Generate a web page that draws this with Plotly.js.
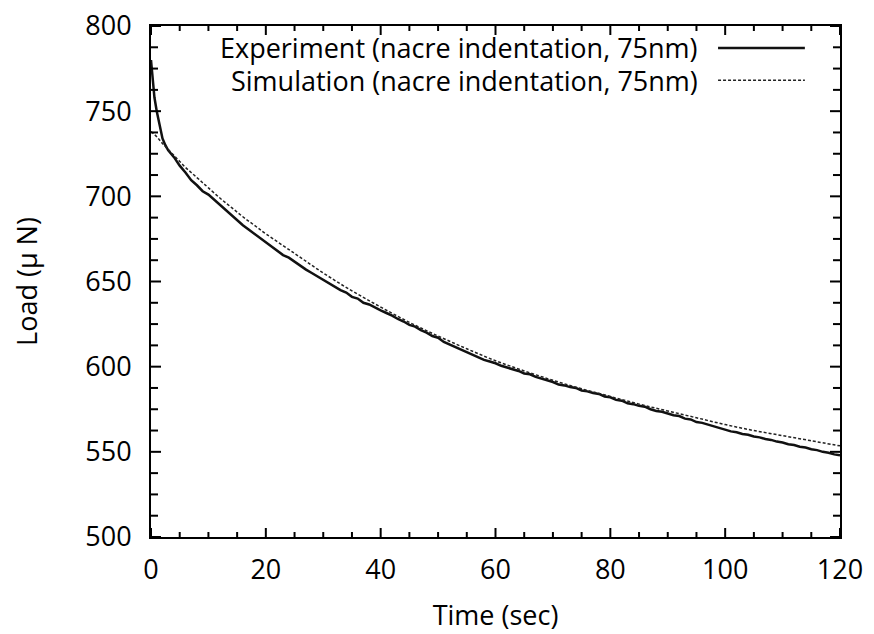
<!DOCTYPE html>
<html>
<head>
<meta charset="utf-8">
<script src="https://cdn.plot.ly/plotly-3.0.1.min.js"></script>
<style>html,body{margin:0;padding:0;background:#fff;}#chart{width:874px;height:634px;}</style>
</head>
<body>
<div id="chart"></div>
<script>
// Experiment (nacre indentation, 75nm): time (s) and load (µN)
const expTime = [0,0.3,0.6,1,1.5,2,2.5,3,4,5,6,7,8,9,10,11,12,13,14,15,16,17,18,19,20,
  21,22,23,24,25,26,27,28,29,30,31,32,33,34,35,36,37,38,39,40,41,42,43,44,45,46,47,48,49,50,
  51,52,53,54,55,56,57,58,59,60,61,62,63,64,65,66,67,68,69,70,71,72,73,74,75,76,77,78,79,80,
  81,82,83,84,85,86,87,88,89,90,91,92,93,94,95,96,97,98,99,100,101,102,103,104,105,106,107,108,109,110,
  111,112,113,114,115,116,117,118,119,120];
const expLoad = [780,768,758,750,741,734,730,727,723,718,714,709.5,706.5,703,701,698,695,691.5,689,686,683,680.5,678,675.5,673,
  671,668.5,665.5,664,661.5,659.5,657,655,653,651,648.5,647,645,643.5,641,640,637.5,636.5,634.5,633,631.5,630,628,626.5,624.5,623.5,621.5,620,618,617,
  614.5,613,611.5,610,608.5,607,605.5,604,603,602,600.5,599.5,598.5,597.5,596,595.5,594,593,592,591,589.5,589,588,587.5,586,585.5,584.5,584,582.5,582,
  580.5,580,578.5,578,577,576.5,575,574,573.5,572.5,571.5,571,569.5,569,567.5,567,566,565,564,563,562,561.5,560.5,560,559,558.5,557.5,557,556,555.5,
  554.5,554,553,552.5,551.5,551,550,549.5,548.5,548];

// Simulation (nacre indentation, 75nm)
const simTime = [0,1,2,3,4,5,6,7,8,9,10,12,14,16,18,20,25,30,35,40,45,50,55,60,65,70,75,80,85,90,95,100,105,110,115,120];
const simLoad = [738,735,731,727.5,724,720.5,717,714,711,708,705,699,693.5,688,683,678,666.5,655,644.5,635,626,618,610.5,603.5,597.5,592,587,582.5,578,574,570,566,562.5,559.5,556.5,553.5];

const legendLabels = ["Experiment (nacre indentation, 75nm)", "Simulation (nacre indentation, 75nm)"];

// Tick positions (major / minor)
const xMajorTicks = [0,20,40,60,80,100,120];
const xMinorTicks = [5,10,15,25,30,35,45,50,55,65,70,75,85,90,95,105,110,115];
const yMajorTicks = [500,550,600,650,700,750,800];
const yMinorTicks = [512.5,525,537.5,562.5,575,587.5,612.5,625,637.5,662.5,675,687.5,712.5,725,737.5,762.5,775,787.5];

const FONT = "'Open Sans', sans-serif";
const FS = 27;
const PLOT_W = 874 - 151 - 34, PLOT_H = 634 - 26 - 97;

const traces = [
  {x: expTime, y: expLoad, type: "scatter", mode: "lines", name: legendLabels[0],
   line: {color: "#111", width: 2.5}, showlegend: false},
  {x: simTime, y: simLoad, type: "scatter", mode: "lines", name: legendLabels[1],
   line: {color: "#222", width: 1.5, dash: "3px,2px", shape: "spline"}, showlegend: false}
];

// Inside ticks on all four sides, placed through the axis scales
const tickShapes = [];
function xTick(v, len) {
  const f = len / PLOT_H;
  tickShapes.push({type: "line", xref: "x", yref: "paper", x0: v, x1: v, y0: 0, y1: f, line: {color: "#000", width: 2}});
  tickShapes.push({type: "line", xref: "x", yref: "paper", x0: v, x1: v, y0: 1, y1: 1 - f, line: {color: "#000", width: 2}});
}
function yTick(v, len) {
  const f = len / PLOT_W;
  tickShapes.push({type: "line", xref: "paper", yref: "y", x0: 0, x1: f, y0: v, y1: v, line: {color: "#000", width: 2}});
  tickShapes.push({type: "line", xref: "paper", yref: "y", x0: 1, x1: 1 - f, y0: v, y1: v, line: {color: "#000", width: 2}});
}
xMajorTicks.forEach(v => xTick(v, 9));
xMinorTicks.forEach(v => xTick(v, 5));
yMajorTicks.forEach(v => yTick(v, 10));
yMinorTicks.forEach(v => yTick(v, 7));

const layout = {
  width: 874, height: 634,
  margin: {l: 151, r: 34, t: 26, b: 97},
  paper_bgcolor: "#fff", plot_bgcolor: "#fff",
  font: {family: FONT, color: "#000", size: FS},
  showlegend: false,
  xaxis: {
    range: [0, 120], tickmode: "array", tickvals: xMajorTicks, showgrid: false, zeroline: false,
    showline: true, linecolor: "#000", linewidth: 2, mirror: true,
    ticks: "", ticklabelstandoff: 8,
    tickfont: {family: FONT, size: FS, color: "#000"},
    title: {text: "Time (sec)", font: {family: FONT, size: FS, color: "#000"}, standoff: 20}
  },
  yaxis: {
    range: [500, 800], tickmode: "array", tickvals: yMajorTicks, showgrid: false, zeroline: false,
    showline: true, linecolor: "#000", linewidth: 2, mirror: true,
    ticks: "", ticklabelstandoff: 12,
    tickfont: {family: FONT, size: FS, color: "#000"},
    title: {text: "Load (µ N)", font: {family: FONT, size: FS, color: "#000"}, standoff: 40}
  },
  annotations: [
    {xref: "paper", yref: "paper", x: 0.797, y: 0.957, xanchor: "right", yanchor: "middle",
     text: legendLabels[0], showarrow: false, font: {family: FONT, size: FS, color: "#000"}},
    {xref: "paper", yref: "paper", x: 0.797, y: 0.894, xanchor: "right", yanchor: "middle",
     text: legendLabels[1], showarrow: false, font: {family: FONT, size: FS, color: "#000"}}
  ],
  shapes: tickShapes.concat([
    {type: "line", xref: "paper", yref: "paper", x0: 0.823, x1: 0.949, y0: 0.957, y1: 0.957,
     line: {color: "#111", width: 2.5}},
    {type: "line", xref: "paper", yref: "paper", x0: 0.823, x1: 0.949, y0: 0.894, y1: 0.894,
     line: {color: "#222", width: 1.5, dash: "3px,2px"}}
  ])
};

Plotly.newPlot("chart", traces, layout, {displayModeBar: false});
</script>
</body>
</html>
